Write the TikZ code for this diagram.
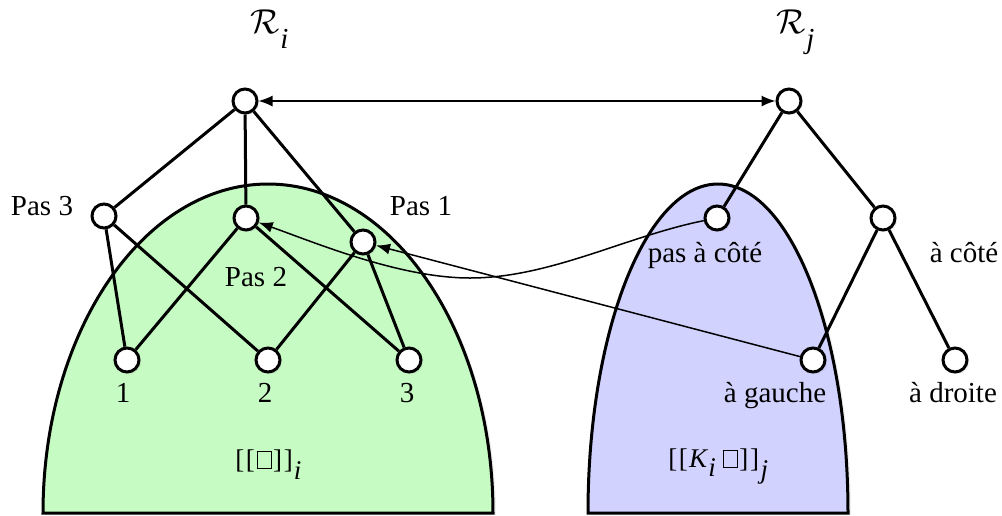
\documentclass[tikz,border=0pt]{standalone}
\usepackage[no-math]{fontspec}
\setmainfont{Liberation Serif}
\usetikzlibrary{arrows.meta,shadows}
\definecolor{gfill}{RGB}{199,251,196}
\definecolor{bfill}{RGB}{210,210,255}
\newcommand\bx{{\setlength\fboxsep{0pt}\setlength\fboxrule{0.5pt}\fbox{\rule{0pt}{8pt}\hspace{6.5pt}}}}
\newcommand\lowsub[2]{\raisebox{-#1}{\itshape #2}}
\begin{document}
\begin{tikzpicture}[x=0.5pt,y=-0.5pt,
  vtx/.style={circle,draw,line width=1.5pt,fill=white,minimum size=12pt,inner sep=0pt,
    drop shadow={opacity=0.15,shadow xshift=1pt,shadow yshift=-1pt}},
  edge/.style={line width=1.5pt},
  region/.style={line width=1.5pt,drop shadow={opacity=0.12,shadow xshift=1.5pt,shadow yshift=-1pt}},
  ptr/.style={line width=0.75pt,-{Latex[length=7pt,width=5.5pt]}},
  lbl/.style={font=\fontsize{14.5}{17}\selectfont,anchor=base,inner sep=0pt},
  rlbl/.style={font=\fontsize{17.5}{20}\selectfont,anchor=base west,inner sep=0pt},
  slbl/.style={font=\fontsize{13.5}{16}\selectfont,anchor=base west,inner sep=0pt}]
\useasboundingbox (0,0) rectangle (1002,515);
% regions
\draw[region,fill=gfill] (43,513) arc[start angle=180,end angle=0,x radius=112.5pt,y radius=164.5pt] -- cycle;
\draw[region,fill=bfill] (588,513) arc[start angle=180,end angle=0,x radius=65pt,y radius=164.5pt] -- cycle;
% vertices
\node[vtx] (ri) at (245,101) {};
\node[vtx] (rj) at (789,101) {};
\node[vtx] (p3) at (104,216) {};
\node[vtx] (p2) at (246,218) {};
\node[vtx] (p1) at (363,242) {};
\node[vtx] (n1) at (127,360) {};
\node[vtx] (n2) at (268,360) {};
\node[vtx] (n3) at (409,360) {};
\node[vtx] (pac) at (717,218) {};
\node[vtx] (ac) at (883,218) {};
\node[vtx] (ag) at (813,360) {};
\node[vtx] (ad) at (955,360) {};
% tree edges
\draw[edge] (ri) -- (p3);
\draw[edge] (ri) -- (p2);
\draw[edge] (ri) -- (p1);
\draw[edge] (p3) -- (n1);
\draw[edge] (p3) -- (n2);
\draw[edge] (p2) -- (n1);
\draw[edge] (p2) -- (n3);
\draw[edge] (p1) -- (n2);
\draw[edge] (p1) -- (n3);
\draw[edge] (rj) -- (pac);
\draw[edge] (rj) -- (ac);
\draw[edge] (ac) -- (ag);
\draw[edge] (ac) -- (ad);
% pointers
\draw[line width=0.75pt,{Latex[length=7pt,width=5.5pt]}-{Latex[length=7pt,width=5.5pt]}] (ri) -- (rj);
\draw[ptr] (ag) -- (p1);
\coordinate (dip) at (470,278);
\draw[ptr] (pac) .. controls (627,236) and (550,278) .. (dip) .. controls (400,278) and (316,243) .. (p2);
% labels
\node[rlbl] (lri) at (250,33) {$\mathcal{R}$\kern0.3pt\lowsub{7.5pt}{\fontsize{14.5}{17}\selectfont i}};
\node[rlbl] (lrj) at (776,33) {$\mathcal{R}$\kern0.3pt\lowsub{7.5pt}{\fontsize{14.5}{17}\selectfont j}};
\node[lbl] (l3) at (42,215) {Pas 3};
\node[lbl] (l2) at (256,286) {Pas 2};
\node[lbl] (l1) at (421,215) {Pas 1};
\node[lbl] (t1) at (123,402) {1};
\node[lbl] (t2) at (265,402) {2};
\node[lbl] (t3) at (407,402) {3};
\node[lbl] (tpac) at (705,262) {pas à côté};
\node[lbl] (tac) at (964,262) {à côté};
\node[lbl] (tag) at (775,402) {à gauche};
\node[lbl] (tad) at (953,402) {à droite};
\node[slbl] (si) at (235,468) {[\kern0.8pt[\kern0.8pt\bx\kern0.8pt]\kern0.8pt]\kern0.6pt\lowsub{5.5pt}{i}};
\node[slbl] (sj) at (668,467) {[\kern0.8pt[\kern0.6pt\textit{K}\lowsub{4.5pt}{i}\kern3.5pt\bx\kern0.8pt]\kern0.8pt]\kern0.8pt\lowsub{5.5pt}{j}};
\end{tikzpicture}
\end{document}
